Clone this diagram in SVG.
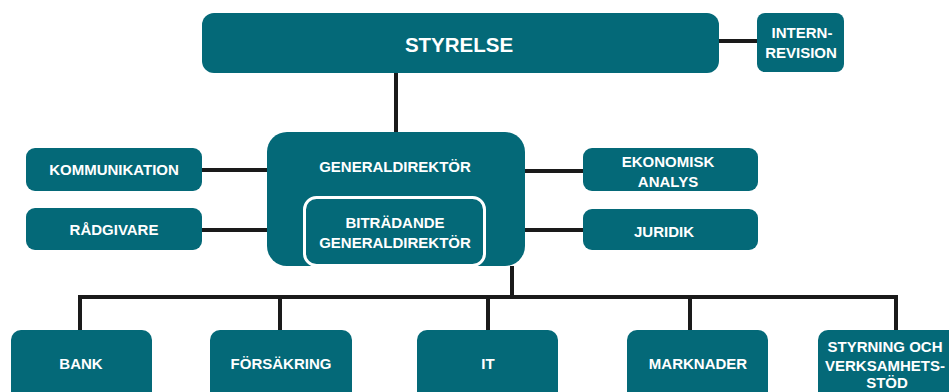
<svg xmlns="http://www.w3.org/2000/svg" width="949" height="392" viewBox="0 0 949 392">
<style>
.box{fill:#046978;}
.t{font-family:"Liberation Sans",Arial,sans-serif;font-weight:bold;font-size:15px;fill:#ffffff;text-anchor:middle;}
.ln{stroke:#1a1a1a;stroke-width:4;fill:none;}
</style>
<rect width="949" height="392" fill="#ffffff"/>
<g id="connectors">
<line class="ln" x1="719" y1="41" x2="757" y2="41"/>
<line class="ln" x1="396" y1="73" x2="396" y2="132"/>
<line class="ln" x1="202" y1="170" x2="267" y2="170"/>
<line class="ln" x1="202" y1="230" x2="267" y2="230"/>
<line class="ln" x1="525" y1="171" x2="583" y2="171"/>
<line class="ln" x1="525" y1="230" x2="583" y2="230"/>
<line class="ln" x1="512" y1="266" x2="512" y2="297"/>
<polyline class="ln" points="80,330 80,297 896,297 896,330"/>
<line class="ln" x1="280" y1="297" x2="280" y2="330"/>
<line class="ln" x1="488" y1="297" x2="488" y2="330"/>
<line class="ln" x1="690" y1="297" x2="690" y2="330"/>
</g>
<g id="styrelse">
<rect class="box" x="202" y="13" width="517" height="60" rx="12"/>
<text class="t" x="459" y="52" style="font-size:20.5px">STYRELSE</text>
</g>
<g id="internrevision">
<rect class="box" x="757" y="13" width="87" height="59" rx="8"/>
<text class="t" x="802" y="38" style="font-size:15px">INTERN-</text>
<text class="t" x="801" y="58" style="font-size:15px">REVISION</text>
</g>
<g id="generaldirektor">
<rect class="box" x="267" y="132" width="258" height="134" rx="20"/>
<text class="t" x="395" y="172">GENERALDIREKTÖR</text>
</g>
<g id="bitradande">
<rect x="304.5" y="197.5" width="180" height="68" rx="12" fill="#046978" stroke="#ffffff" stroke-width="3"/>
<text class="t" x="395" y="228">BITRÄDANDE</text>
<text class="t" x="395" y="248">GENERALDIREKTÖR</text>
</g>
<g id="kommunikation">
<rect class="box" x="26" y="148" width="176" height="43" rx="9"/>
<text class="t" x="114" y="174.5">KOMMUNIKATION</text>
</g>
<g id="radgivare">
<rect class="box" x="26" y="208" width="176" height="42" rx="9"/>
<text class="t" x="114" y="235">RÅDGIVARE</text>
</g>
<g id="ekonomisk">
<rect class="box" x="583" y="148" width="175" height="43" rx="9"/>
<text class="t" x="668" y="167">EKONOMISK</text>
<text class="t" x="668" y="187">ANALYS</text>
</g>
<g id="juridik">
<rect class="box" x="583" y="209" width="175" height="41" rx="9"/>
<text class="t" x="664" y="237">JURIDIK</text>
</g>
<g id="bank">
<rect class="box" x="11" y="330" width="141" height="80" rx="10"/>
<text class="t" x="81" y="369">BANK</text>
</g>
<g id="forsakring">
<rect class="box" x="210" y="330" width="142" height="80" rx="10"/>
<text class="t" x="281" y="369">FÖRSÄKRING</text>
</g>
<g id="it">
<rect class="box" x="417" y="330" width="141" height="80" rx="10"/>
<text class="t" x="488" y="369">IT</text>
</g>
<g id="marknader">
<rect class="box" x="627" y="330" width="141" height="80" rx="10"/>
<text class="t" x="698" y="369">MARKNADER</text>
</g>
<g id="styrning">
<rect class="box" x="818" y="330" width="142" height="80" rx="10"/>
<text class="t" x="885" y="352">STYRNING OCH</text>
<text class="t" x="885" y="371">VERKSAMHETS-</text>
<text class="t" x="887" y="388">STÖD</text>
</g>
</svg>
